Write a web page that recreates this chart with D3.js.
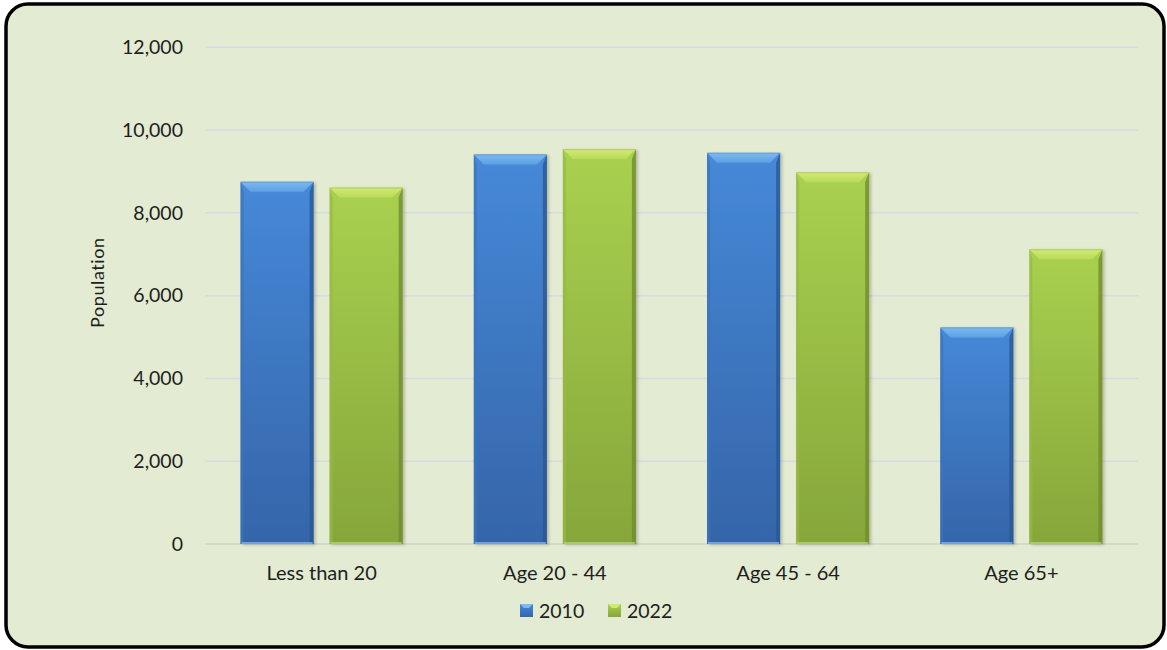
<!DOCTYPE html>
<html>
<head>
<meta charset="utf-8">
<script src="https://cdn.jsdelivr.net/npm/d3@7/dist/d3.min.js"></script>
<style>
  html, body { margin: 0; padding: 0; background: #ffffff; }
  svg { display: block; }
  text { font-family: Lato, "Open Sans", sans-serif; fill: #1e1e1e; }
</style>
</head>
<body>
<svg id="chart" width="1167" height="650"></svg>
<script>
const categories = ["Less than 20", "Age 20 - 44", "Age 45 - 64", "Age 65+"];
const seriesNames = ["2010", "2022"];
const values2010 = [8750, 9410, 9450, 5230];
const values2022 = [8610, 9540, 8980, 7120];
const yTicks = [0, 2000, 4000, 6000, 8000, 10000, 12000];

const W = 1167, H = 650;
const svg = d3.select("#chart");
const defs = svg.append("defs");

// frame
svg.append("rect")
  .attr("x", 6).attr("y", 4).attr("width", W - 9).attr("height", H - 7)
  .attr("rx", 22).attr("ry", 22)
  .attr("fill", "#e3ebd2").attr("stroke", "#000").attr("stroke-width", 3.5);

const plot = { left: 205, right: 1138, top: 47.3, bottom: 544 };

const y = d3.scaleLinear().domain([0, 12000]).range([plot.bottom, plot.top]);
const x0 = d3.scaleBand().domain(categories).range([plot.left, plot.right])
  .paddingInner(0.305).paddingOuter(0.1525);
const x1 = d3.scaleBand().domain(seriesNames).range([0, x0.bandwidth()])
  .paddingInner(0.18).paddingOuter(0);

const palettes = {
  "2010": { top: "#4689d8", bottom: "#3565a9", bevelT: "#7cbaf0", bevelB: "#5d9fe3", edgeL: "#3a74bd", edgeR: "#2b5795", base: "#8fb6e0" },
  "2022": { top: "#a9d14f", bottom: "#86a63a", bevelT: "#d2ea74", bevelB: "#b9da5a", edgeL: "#95b944", edgeR: "#708c2f", base: "#b9cf8a" }
};
seriesNames.forEach(s => {
  const p = palettes[s];
  const g = defs.append("linearGradient").attr("id", "g" + s)
    .attr("x1", 0).attr("y1", 0).attr("x2", 0).attr("y2", 1);
  g.append("stop").attr("offset", "0%").attr("stop-color", p.top);
  g.append("stop").attr("offset", "100%").attr("stop-color", p.bottom);
  const b = defs.append("linearGradient").attr("id", "b" + s)
    .attr("x1", 0).attr("y1", 0).attr("x2", 0).attr("y2", 1);
  b.append("stop").attr("offset", "0%").attr("stop-color", p.bevelT);
  b.append("stop").attr("offset", "100%").attr("stop-color", p.bevelB);
});
const f = defs.append("filter").attr("id", "shadow").attr("x", "-10%").attr("y", "-10%").attr("width", "130%").attr("height", "120%");
f.append("feDropShadow").attr("dx", 2).attr("dy", 1).attr("stdDeviation", 1.5).attr("flood-color", "#000").attr("flood-opacity", 0.22);

// gridlines
svg.append("g").selectAll("line").data(yTicks).join("line")
  .attr("x1", plot.left).attr("x2", plot.right)
  .attr("y1", d => y(d)).attr("y2", d => y(d))
  .attr("stroke", d => d === 0 ? "#cfd3c8" : "#d9d9e2").attr("stroke-width", 1.5);

// y axis labels
const yAxis = d3.axisLeft(y).tickValues(yTicks).tickFormat(d3.format(",")).tickSize(0).tickPadding(0);
const ya = svg.append("g").attr("transform", `translate(${plot.left - 22},0)`).call(yAxis);
ya.select(".domain").remove();
ya.selectAll("text").style("font-size", "19.5px").attr("fill", "#1e1e1e").attr("font-family", "Lato, 'Open Sans', sans-serif");

// y title
svg.append("text")
  .attr("transform", `translate(104,${(plot.top + plot.bottom) / 2 - 13}) rotate(-90)`)
  .attr("text-anchor", "middle").style("font-size", "18px").style("letter-spacing", "0.6px").text("Population");

// bars
const data = categories.map((c, i) => ({ cat: c, vals: [
  { s: "2010", v: values2010[i] }, { s: "2022", v: values2022[i] }
]}));

const groups = svg.append("g").selectAll("g").data(data).join("g")
  .attr("transform", d => `translate(${x0(d.cat)},0)`);

const bars = groups.selectAll("g.bar").data(d => d.vals).join("g").attr("class", "bar");

bars.each(function(d) {
  const g = d3.select(this);
  const p = palettes[d.s];
  const bx = x1(d.s), bw = x1.bandwidth();
  const by = y(d.v), bh = y(0) - y(d.v);
  const bev = 10;
  g.append("rect").attr("x", bx).attr("y", by).attr("width", bw).attr("height", bh)
    .attr("fill", `url(#g${d.s})`).attr("filter", "url(#shadow)");
  // left & right edges
  g.append("polygon").attr("points", [[bx, by], [bx + 3, by + bev], [bx + 3, by + bh], [bx, by + bh]].join(" "))
    .attr("fill", p.edgeL).attr("opacity", 0.7);
  g.append("polygon").attr("points", [[bx + bw, by], [bx + bw - 4, by + bev], [bx + bw - 4, by + bh], [bx + bw, by + bh]].join(" "))
    .attr("fill", p.edgeR).attr("opacity", 0.8);
  // bottom light edge
  g.append("line").attr("x1", bx + 1).attr("x2", bx + bw - 1).attr("y1", by + bh - 1).attr("y2", by + bh - 1)
    .attr("stroke", p.base).attr("stroke-width", 1.5);
  // top bevel
  g.append("polygon").attr("points", [[bx, by], [bx + bw, by], [bx + bw - bev, by + bev], [bx + bev, by + bev]].join(" "))
    .attr("fill", `url(#b${d.s})`);
  g.append("line").attr("x1", bx).attr("x2", bx + bw).attr("y1", by + 0.5).attr("y2", by + 0.5)
    .attr("stroke", d3.color(p.bevelT).darker(0.4)).attr("stroke-width", 1);
});

// x category labels
const xAxis = d3.axisBottom(x0).tickSize(0).tickPadding(0);
const xa = svg.append("g").attr("transform", `translate(0,${plot.bottom + 22})`).call(xAxis);
xa.select(".domain").remove();
xa.selectAll("text").style("font-size", "20px").attr("fill", "#1e1e1e").attr("font-family", "Lato, 'Open Sans', sans-serif").attr("dy", "0.71em");

// legend
const lg = svg.append("g");
const li = lg.selectAll("g").data(seriesNames).join("g")
  .attr("transform", (d, i) => `translate(${520 + i * 88},604)`);
li.append("rect").attr("width", 13).attr("height", 13).attr("fill", d => `url(#g${d})`);
li.append("polygon").attr("points", "0,0 13,0 9,4 4,4").attr("fill", d => palettes[d].bevelT);
li.append("text").attr("x", 19).attr("y", 14).style("font-size", "19.5px").text(d => d);
</script>
</body>
</html>
